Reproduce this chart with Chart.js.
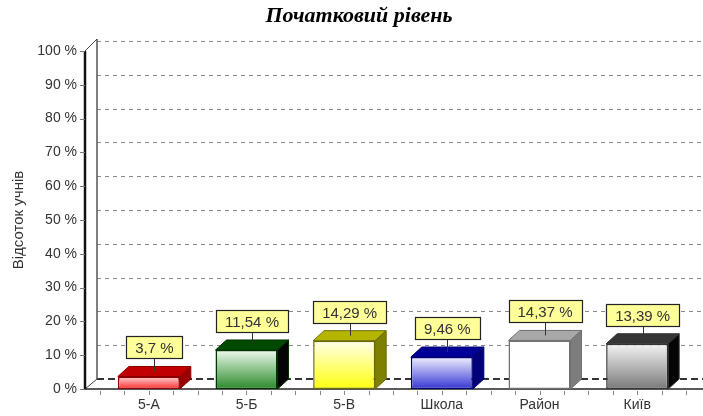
<!DOCTYPE html>
<html>
<head>
<meta charset="utf-8">
<script src="https://cdn.jsdelivr.net/npm/chart.js@4"></script>
<style>
  html, body { margin: 0; padding: 0; background: #fff; }
  #wrap { width: 703px; height: 416px; }
</style>
</head>
<body>
<div id="wrap"><canvas id="myChart"></canvas></div>
<script>
//my data
const chartTitle = 'Початковий рівень'
const yTitle = 'Відсоток учнів'
const categories = ['5-А', '5-Б', '5-В', 'Школа', 'Район', 'Київ']
const values = [3.7, 11.54, 14.29, 9.46, 14.37, 13.39]
const valueLabels = ['3,7 %', '11,54 %', '14,29 %', '9,46 %', '14,37 %', '13,39 %']
const yTickValues = [0, 10, 20, 30, 40, 50, 60, 70, 80, 90, 100]

// colours of the 3d boxes: front light/dark, border, top face, side face
const frontLight = ['#ffd6d6', '#eefaee', '#ffffe8', '#f0f0ff', '#ffffff', '#f4f4f4']
const frontDark = ['#ff2a2a', '#2a8a2a', '#ffff10', '#3535d5', '#ffffff', '#7a7a7a']
const borderCols = ['#8b0000', '#003300', '#6b6b00', '#000070', '#707070', '#333333']
const topCols = ['#c00000', '#004a00', '#b5b500', '#000099', '#a8a8a8', '#353535']
const sideCols = ['#9a0000', '#050505', '#808000', '#00007a', '#7d7d7d', '#050505']

const depthX = 11
const depthY = 10

/////////////////////////////////////////////////////////////
// 3d frame, gridlines, box tops and value labels
/////////////////////////////////////////////////////////////
const frame3d = {
    id: 'frame3d',
    beforeDatasetsDraw(chart) {
        const ctx = chart.ctx
        const area = chart.chartArea
        const y = chart.scales.y
        const axisX = 85
        const wallX = axisX + 12
        ctx.save()

        // dashed gridlines on the back wall
        ctx.strokeStyle = '#8a8a8a'
        ctx.lineWidth = 1
        ctx.setLineDash([4, 4])
        yTickValues.forEach(v => {
            if (v === 0) return
            const py = Math.round(y.getPixelForValue(v) - depthY) + 0.5
            ctx.beginPath()
            ctx.moveTo(wallX, py)
            ctx.lineTo(chart.width, py)
            ctx.stroke()
        })
        // back floor line
        ctx.strokeStyle = '#333'
        ctx.lineWidth = 2
        ctx.setLineDash([7, 4])
        const by = y.getPixelForValue(0) - depthY
        ctx.beginPath()
        ctx.moveTo(wallX, by)
        ctx.lineTo(chart.width, by)
        ctx.stroke()
        ctx.setLineDash([])

        // back wall vertical
        const topFront = y.getPixelForValue(100)
        const bottomFront = y.getPixelForValue(0)
        ctx.strokeStyle = '#555'
        ctx.lineWidth = 1.5
        ctx.beginPath()
        ctx.moveTo(wallX, topFront - depthY - 2)
        ctx.lineTo(wallX, bottomFront - depthY)
        ctx.stroke()

        // diagonals
        ctx.strokeStyle = '#444'
        ctx.lineWidth = 1
        ctx.beginPath()
        ctx.moveTo(axisX, topFront)
        ctx.lineTo(wallX, topFront - depthY - 2)
        ctx.moveTo(axisX, bottomFront)
        ctx.lineTo(wallX, bottomFront - depthY)
        ctx.stroke()

        // front y axis
        ctx.strokeStyle = '#111'
        ctx.lineWidth = 2.5
        ctx.beginPath()
        ctx.moveTo(axisX, topFront)
        ctx.lineTo(axisX, bottomFront)
        ctx.stroke()

        // y tick marks
        ctx.strokeStyle = '#777'
        ctx.lineWidth = 1
        yTickValues.forEach(v => {
            const py = Math.round(y.getPixelForValue(v)) + 0.5
            ctx.beginPath()
            ctx.moveTo(axisX - 5, py)
            ctx.lineTo(axisX, py)
            ctx.stroke()
        })

        // front floor line
        ctx.strokeStyle = '#222'
        ctx.lineWidth = 1.5
        ctx.beginPath()
        ctx.moveTo(axisX, bottomFront)
        ctx.lineTo(chart.width, bottomFront)
        ctx.stroke()

        // small ticks under the floor
        ctx.strokeStyle = '#888'
        ctx.lineWidth = 1
        const step = (area.right - area.left) / categories.length / 4
        for (let px = area.left; px <= area.right + 1; px += step) {
            ctx.beginPath()
            ctx.moveTo(Math.round(px) + 0.5, bottomFront + 2)
            ctx.lineTo(Math.round(px) + 0.5, bottomFront + 6)
            ctx.stroke()
        }

        // title
        ctx.fillStyle = '#000'
        ctx.font = 'italic bold 22px "Liberation Serif", serif'
        ctx.textAlign = 'center'
        ctx.textBaseline = 'middle'
        ctx.fillText(chartTitle, 359, 16)
        ctx.restore()
    },
    afterDatasetsDraw(chart) {
        const ctx = chart.ctx
        const meta = chart.getDatasetMeta(0)
        ctx.save()
        meta.data.forEach((bar, i) => {
            const left = bar.x - bar.width / 2
            const right = bar.x + bar.width / 2
            const top = bar.y
            const base = bar.base

            // top face
            ctx.fillStyle = topCols[i]
            ctx.strokeStyle = borderCols[i]
            ctx.lineWidth = 1
            ctx.beginPath()
            ctx.moveTo(left, top)
            ctx.lineTo(left + depthX, top - depthY)
            ctx.lineTo(right + depthX, top - depthY)
            ctx.lineTo(right, top)
            ctx.closePath()
            ctx.fill()
            ctx.stroke()

            // side face
            ctx.fillStyle = sideCols[i]
            ctx.beginPath()
            ctx.moveTo(right, top)
            ctx.lineTo(right + depthX, top - depthY)
            ctx.lineTo(right + depthX, base - depthY)
            ctx.lineTo(right, base)
            ctx.closePath()
            ctx.fill()
            ctx.stroke()

            // value label box
            ctx.font = '15px "Liberation Sans", Arial, sans-serif'
            const tw = ctx.measureText(valueLabels[i]).width
            const bw = Math.round(tw + 18)
            const bh = 22
            const cx = bar.x + depthX / 2
            const boxBottom = top - depthY - 8
            const bx = Math.round(cx - bw / 2) + 0.5
            const byy = Math.round(boxBottom - bh) + 0.5

            ctx.strokeStyle = '#333'
            ctx.lineWidth = 1
            ctx.beginPath()
            ctx.moveTo(Math.round(cx) + 0.5, boxBottom)
            ctx.lineTo(Math.round(cx) + 0.5, top - depthY / 2)
            ctx.stroke()

            ctx.fillStyle = '#ffff99'
            ctx.fillRect(bx, byy, bw, bh)
            ctx.strokeStyle = '#222'
            ctx.lineWidth = 1.2
            ctx.strokeRect(bx, byy, bw, bh)

            ctx.fillStyle = '#333'
            ctx.textAlign = 'center'
            ctx.textBaseline = 'middle'
            ctx.fillText(valueLabels[i], cx, byy + bh / 2 + 1)
        })
        ctx.restore()
    }
}

// setup
const dataChart = {
    labels: categories,
    datasets: [{
        label: chartTitle,
        data: values,
        backgroundColor: function (c) {
            const chart = c.chart
            const area = chart.chartArea
            const i = c.dataIndex
            if (!area || c.raw === undefined) return frontDark[i]
            const top = chart.scales.y.getPixelForValue(c.raw)
            const g = chart.ctx.createLinearGradient(0, top, 0, area.bottom)
            g.addColorStop(0, frontLight[i])
            g.addColorStop(1, frontDark[i])
            return g
        },
        borderColor: borderCols,
        borderWidth: 1.5,
        borderSkipped: false,
        categoryPercentage: 1,
        barPercentage: 0.635,
    }]
}

// config
const config = {
    type: 'bar',
    data: dataChart,
    plugins: [frame3d],
    options: {
        responsive: true,
        maintainAspectRatio: false,
        animation: false,
        layout: {
            padding: { top: 51, right: 17, left: 0, bottom: 0 }
        },
        plugins: {
            legend: { display: false },
            tooltip: { enabled: false },
            title: { display: false },
        },
        scales: {
            x: {
                grid: { display: false, drawTicks: false },
                border: { display: false },
                ticks: {
                    color: '#333',
                    padding: 7.5,
                    font: { family: '"Liberation Sans", Arial, sans-serif', size: 14 },
                },
                afterFit(scale) { scale.height = 27 },
            },
            y: {
                min: 0,
                max: 100,
                // tickLength only spaces the labels from the axis, grid itself is drawn by frame3d
                grid: { display: false, drawTicks: true, tickLength: 23 },
                border: { display: false },
                afterBuildTicks(scale) {
                    scale.ticks = yTickValues.map(v => ({ value: v }))
                },
                ticks: {
                    color: '#333',
                    padding: 0,
                    font: { family: '"Liberation Sans", Arial, sans-serif', size: 14 },
                    callback: function (value) {
                        return value + ' %'
                    },
                },
                title: {
                    display: true,
                    text: yTitle,
                    color: '#333',
                    padding: { top: 10, bottom: 0 },
                    font: { family: '"Liberation Sans", Arial, sans-serif', size: 15 },
                },
                afterFit(scale) { scale.width = 100 },
            }
        }
    },
}

// render
const myChart = new Chart(
    document.getElementById('myChart'),
    config
)
</script>
</body>
</html>
